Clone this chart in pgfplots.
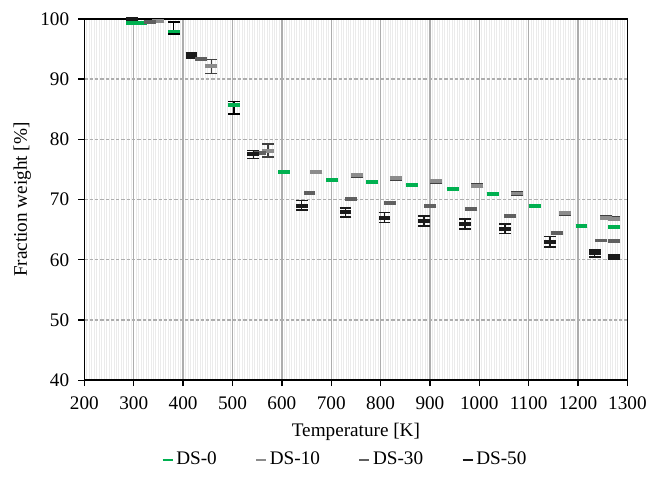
\documentclass[border=0pt]{standalone}
\usepackage{fontspec}
\setmainfont{Liberation Serif}
\usepackage{pgfplots}
\pgfplotsset{compat=1.18}
\definecolor{cg}{HTML}{00B050}
\definecolor{c10}{HTML}{8C8C8C}
\definecolor{c30}{HTML}{606060}
\definecolor{c50}{HTML}{1A1A1A}
\pgfplotsset{
  myleg/.style={legend image code/.code={\draw[#1, line width=1.6pt] (0pt,0pt) -- (7.5pt,0pt);}},
  mymark/.style={only marks, mark=-, color=#1, mark options={solid, line width=3pt, mark size=4.5pt}},
  myerr/.style={error bars/.cd, y dir=both, y explicit,
     error bar style={#1, line width=1pt},
     error mark=-, error mark options={#1, rotate=90, line width=1.1pt, mark size=4.5pt}}
}
\begin{document}
\fontsize{14.5}{17.4}\selectfont
\begin{tikzpicture}
\begin{axis}[
  scale only axis, width=410.25pt, height=273pt,
  xmin=200, xmax=1300, ymin=40, ymax=100,
  xtick={200,300,...,1300}, ytick={40,50,...,100},
  minor x tick num=19,
  xmajorgrids, ymajorgrids, xminorgrids,
  major x grid style={color=black!32, line width=1pt},
  major y grid style={color=black!32, line width=0.9pt, dash pattern=on 2.5pt off 1.5pt},
  minor x grid style={color=black!8, line width=0.7pt},
  minor tick length=0pt,
  tick align=outside, major tick length=4.5pt,
  major tick style={black, line width=1pt},
  xtick pos=left, ytick pos=left,
  xticklabel style={yshift=-3pt},
  yticklabel style={xshift=-2pt},
  axis line style={black, line width=1.2pt},
  /pgf/number format/assume math mode=true,
  /pgf/number format/1000 sep={},
  xlabel={Temperature [K]}, ylabel={Fraction weight [\%]},
  every axis x label/.style={at={(axis description cs:0.5,0)}, yshift=-39pt, anchor=center},
  every axis y label/.style={at={(axis description cs:0,0.5)}, xshift=-47pt, rotate=90, anchor=center},
  legend style={at={(axis description cs:0.5,0)}, anchor=center, yshift=-60pt, xshift=-8pt,
     draw=none, fill=none, legend columns=4,
     /tikz/every even column/.append style={column sep=27pt}},
]
% DS-0
\addplot[mymark=cg, myleg=cg, myerr=black]
 table[x=x, y=y, y error plus=ep, y error minus=em] {
 x y ep em
 297 99.3 0.15 0.15
 314 99.3 0.15 0.15
 381 97.9 1.55 0.4
 503 85.7 0.6 1.5
 604 74.5 0.15 0.15
 702 73.25 0.15 0.15
 783 72.9 0.15 0.15
 863 72.35 0.15 0.15
 946 71.7 0.15 0.15
 1027 70.9 0.15 0.15
 1112 69.0 0.15 0.15
 1207 65.6 0.15 0.15
 1273 65.5 0.15 0.15
 };
\addlegendentry{DS-0}
% DS-10
\addplot[mymark=c10, myleg=c10, myerr={black!75}]
 table[x=x, y=y, y error plus=ep, y error minus=em] {
 x y ep em
 350 99.6 0.1 0.1
 457 92.2 1.05 1.3
 572 78.1 1.1 1.0
 670 74.55 0.25 0.25
 753 74.0 0.25 0.25
 831 73.5 0.25 0.25
 913 73.0 0.25 0.25
 996 72.3 0.25 0.25
 1077 71.0 0.25 0.25
 1173 67.7 0.25 0.25
 1257 67.0 0.3 0.3
 1273 66.8 0.3 0.3
 };
\addlegendentry{DS-10}
% DS-30
\addplot[mymark=c30, myleg=c30, myerr=c30]
 table[x=x, y=y, y error plus=ep, y error minus=em] {
 x y ep em
 333 99.5 0.1 0.1
 436 93.35 0.15 0.15
 556 77.7 0.2 0.2
 656 71.1 0.1 0.1
 741 70.15 0.1 0.1
 819 69.5 0.1 0.1
 901 68.9 0.1 0.1
 984 68.35 0.1 0.1
 1063 67.3 0.1 0.1
 1158 64.5 0.1 0.1
 1247 63.2 0.1 0.1
 1273 63.1 0.15 0.15
 };
\addlegendentry{DS-30}
% DS-50
\addplot[mymark=c50, myleg=c50, myerr=c50]
 table[x=x, y=y, y error plus=ep, y error minus=em] {
 x y ep em
 297 99.9 0.1 0.1
 417 93.95 0.35 0.45
 542 77.5 0.6 0.7
 640 68.95 0.85 0.7
 729 68.0 0.6 0.9
 808 67.0 0.85 0.8
 888 66.5 0.75 0.9
 971 65.95 0.8 0.85
 1052 65.1 0.85 0.7
 1143 63.0 0.85 0.9
 1234 61.2 0.45 0.75
 1273 60.5 0.4 0.4
 };
\addlegendentry{DS-50}
\end{axis}
\path ([xshift=-63.75pt,yshift=-74.25pt]current axis.south west) rectangle ([xshift=15.75pt,yshift=14.25pt]current axis.north east);
\end{tikzpicture}
\end{document}
